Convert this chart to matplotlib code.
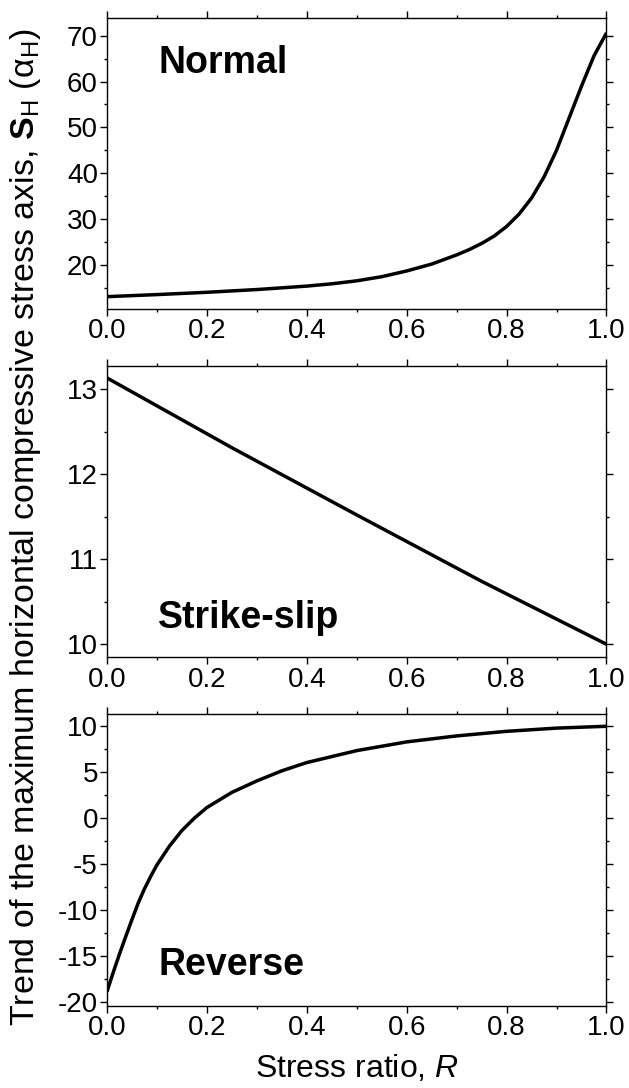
from matplotlib import pyplot as plt
import numpy as np

plt.rcParams['font.family'] = ['Liberation Sans', 'DejaVu Sans']
plt.rcParams['mathtext.fontset'] = 'custom'
plt.rcParams['mathtext.rm'] = 'Liberation Sans'
plt.rcParams['mathtext.bf'] = 'Liberation Sans:bold'
plt.rcParams['mathtext.it'] = 'Liberation Sans:italic'

# values
r_normal = [0.0, 0.1, 0.2, 0.3, 0.4, 0.45, 0.5, 0.55, 0.6, 0.65, 0.7, 0.725,
            0.75, 0.775, 0.8, 0.825, 0.85, 0.875, 0.9, 0.925, 0.95, 0.975, 1.0]
sh_normal = [13.1, 13.55, 14.05, 14.65, 15.4, 15.9, 16.55, 17.45, 18.7, 20.2,
             22.2, 23.35, 24.7, 26.3, 28.4, 31.1, 34.6, 39.2, 45.0, 52.0, 59.0,
             65.6, 70.6]

r_strike = [0.0, 0.25, 0.5, 0.75, 1.0]
sh_strike = [13.13, 12.31, 11.52, 10.74, 10.0]

r_reverse = [0.0, 0.0125, 0.025, 0.0375, 0.05, 0.0625, 0.075, 0.0875, 0.1,
             0.125, 0.15, 0.175, 0.2, 0.25, 0.3, 0.35, 0.4, 0.5, 0.6, 0.7,
             0.8, 0.9, 1.0]
sh_reverse = [-18.9, -16.8, -14.8, -12.9, -11.05, -9.25, -7.7, -6.35, -5.1,
              -3.05, -1.35, 0.0, 1.15, 2.8, 4.05, 5.15, 6.05, 7.35, 8.3, 8.95,
              9.45, 9.8, 10.0]

panels = [
    ('Normal', r_normal, sh_normal, (10.41, 73.86), 10, 5, 0.81),
    ('Strike-slip', r_strike, sh_strike, (9.845, 13.27), 1, 0.5, 0.100),
    ('Reverse', r_reverse, sh_reverse, (-20.41, 11.39), 5, 2.5, 0.104),
]

fig = plt.figure(figsize=(6.29, 10.88), dpi=100)
bottoms = [0.7160, 0.3957, 0.0758]
heights = [0.2675, 0.2679, 0.2684]

for (name, r, sh, ylim, major, minor, ty), b, h in zip(panels, bottoms, heights):
    ax = fig.add_axes([0.1701, b, 0.7941, h])
    ax.plot(r, sh, color='black', lw=2.5, solid_capstyle='butt',
            solid_joinstyle='round')
    ax.set_xlim(0, 1)
    ax.set_ylim(*ylim)
    ax.set_xticks(np.arange(0, 1.01, 0.2))
    ax.set_xticks(np.arange(0, 1.01, 0.1), minor=True)
    ax.set_xticklabels(['%.1f' % v for v in np.arange(0, 1.01, 0.2)])
    lo = np.ceil(ylim[0] / major) * major
    ax.set_yticks(np.arange(lo, ylim[1], major))
    lo2 = np.ceil(ylim[0] / minor) * minor
    ax.set_yticks(np.arange(lo2, ylim[1], minor), minor=True)
    ax.set_yticklabels(['%g' % v for v in np.arange(lo, ylim[1], major)])
    ax.tick_params(which='both', direction='out', top=True, right=True,
                   width=1.0, labelsize=20, pad=1.5)
    ax.tick_params(which='major', length=5)
    ax.tick_params(which='minor', length=2.5)
    for s in ax.spines.values():
        s.set_linewidth(1.0)
    ax.text(0.103, ty, name, transform=ax.transAxes, fontsize=27,
            fontweight='bold', ha='left', va='baseline')

ax.set_xlabel('Stress ratio, $\\mathit{R}$', fontsize=23, labelpad=9)
fig.text(26 / 629, 1 - 527 / 1088,
         'Trend of the maximum horizontal compressive stress axis, '
         '$\\mathbf{S}_{\\mathrm{H}}$ ($\\mathrm{\\alpha}_{\\mathrm{H}}$)',
         rotation=90, ha='center', va='center', fontsize=24.5)

plt.savefig('out.png', dpi=100)
